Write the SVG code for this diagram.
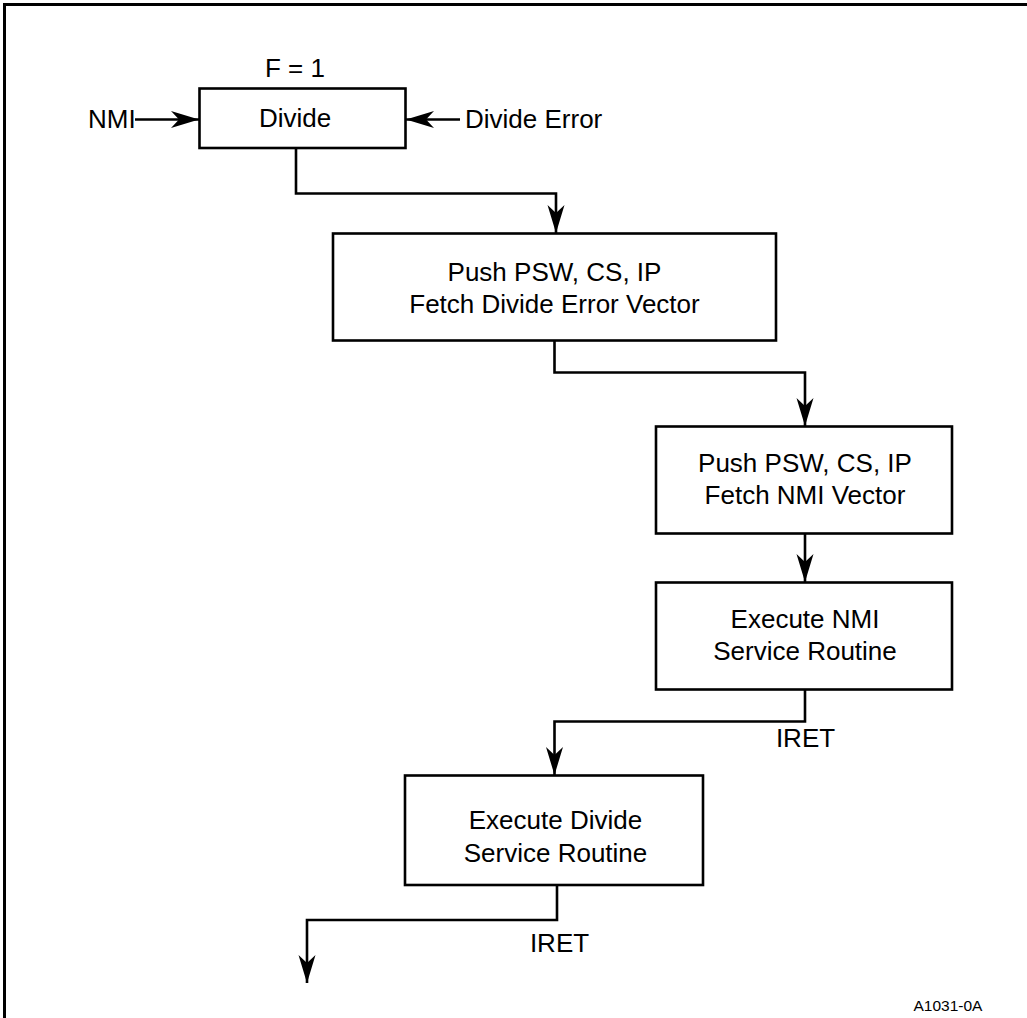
<svg xmlns="http://www.w3.org/2000/svg" width="1027" height="1018" viewBox="0 0 1027 1018">
<style>
.box{fill:#fff;stroke:#000;stroke-width:2.6}
.ln{fill:none;stroke:#000;stroke-width:2.6}
text{font-family:"Liberation Sans",Arial,sans-serif;font-size:26px;fill:#000}
.c{text-anchor:middle}
</style>
<defs>
<marker id="ah" markerUnits="userSpaceOnUse" markerWidth="30" markerHeight="20" refX="0" refY="0" orient="auto" overflow="visible">
<path d="M0,0 L-28,-8.5 L-20,0 L-28,8.5 Z" fill="#000"/>
</marker>
</defs>
<rect width="1027" height="1018" fill="#fff"/>
<path d="M4.5,1018 V4.5 H1027" fill="none" stroke="#000" stroke-width="3"/>
<g id="connectors">
<path class="ln" d="M135,119.5 H199" marker-end="url(#ah)"/>
<path class="ln" d="M460,119.5 H406" marker-end="url(#ah)"/>
<path class="ln" d="M296,148 V193.5 H556 V233" marker-end="url(#ah)"/>
<path class="ln" d="M554.5,341 V372.5 H805 V426" marker-end="url(#ah)"/>
<path class="ln" d="M805,533.5 V582" marker-end="url(#ah)"/>
<path class="ln" d="M805,689.5 V721.5 H554.5 V775" marker-end="url(#ah)"/>
<path class="ln" d="M557,885 V920 H307 V983" marker-end="url(#ah)"/>
</g>
<g id="labels">
<text class="c" x="295" y="77">F = 1</text>
<text x="88" y="128">NMI</text>
<text x="465" y="128">Divide Error</text>
<text class="c" x="805.5" y="747">IRET</text>
<text class="c" x="559.5" y="952">IRET</text>
<text class="c" x="948" y="1011" style="font-size:15.5px">A1031-0A</text>
</g>
<g id="divide">
<rect class="box" x="199.5" y="88.5" width="206" height="59.5"/>
<text class="c" x="295" y="127">Divide</text>
</g>
<g id="push-divide">
<rect class="box" x="333" y="233.5" width="443" height="107"/>
<text class="c" x="554.5" y="281">Push PSW, CS, IP</text>
<text class="c" x="554.5" y="313">Fetch Divide Error Vector</text>
</g>
<g id="push-nmi">
<rect class="box" x="656" y="426.5" width="296" height="107"/>
<text class="c" x="805" y="472">Push PSW, CS, IP</text>
<text class="c" x="805" y="503.5">Fetch NMI Vector</text>
</g>
<g id="exec-nmi">
<rect class="box" x="656" y="582.5" width="296" height="107"/>
<text class="c" x="805" y="628">Execute NMI</text>
<text class="c" x="805" y="659.5">Service Routine</text>
</g>
<g id="exec-divide">
<rect class="box" x="405" y="775.5" width="298" height="109.5"/>
<text class="c" x="555.5" y="828.5">Execute Divide</text>
<text class="c" x="555.5" y="862">Service Routine</text>
</g>
</svg>
